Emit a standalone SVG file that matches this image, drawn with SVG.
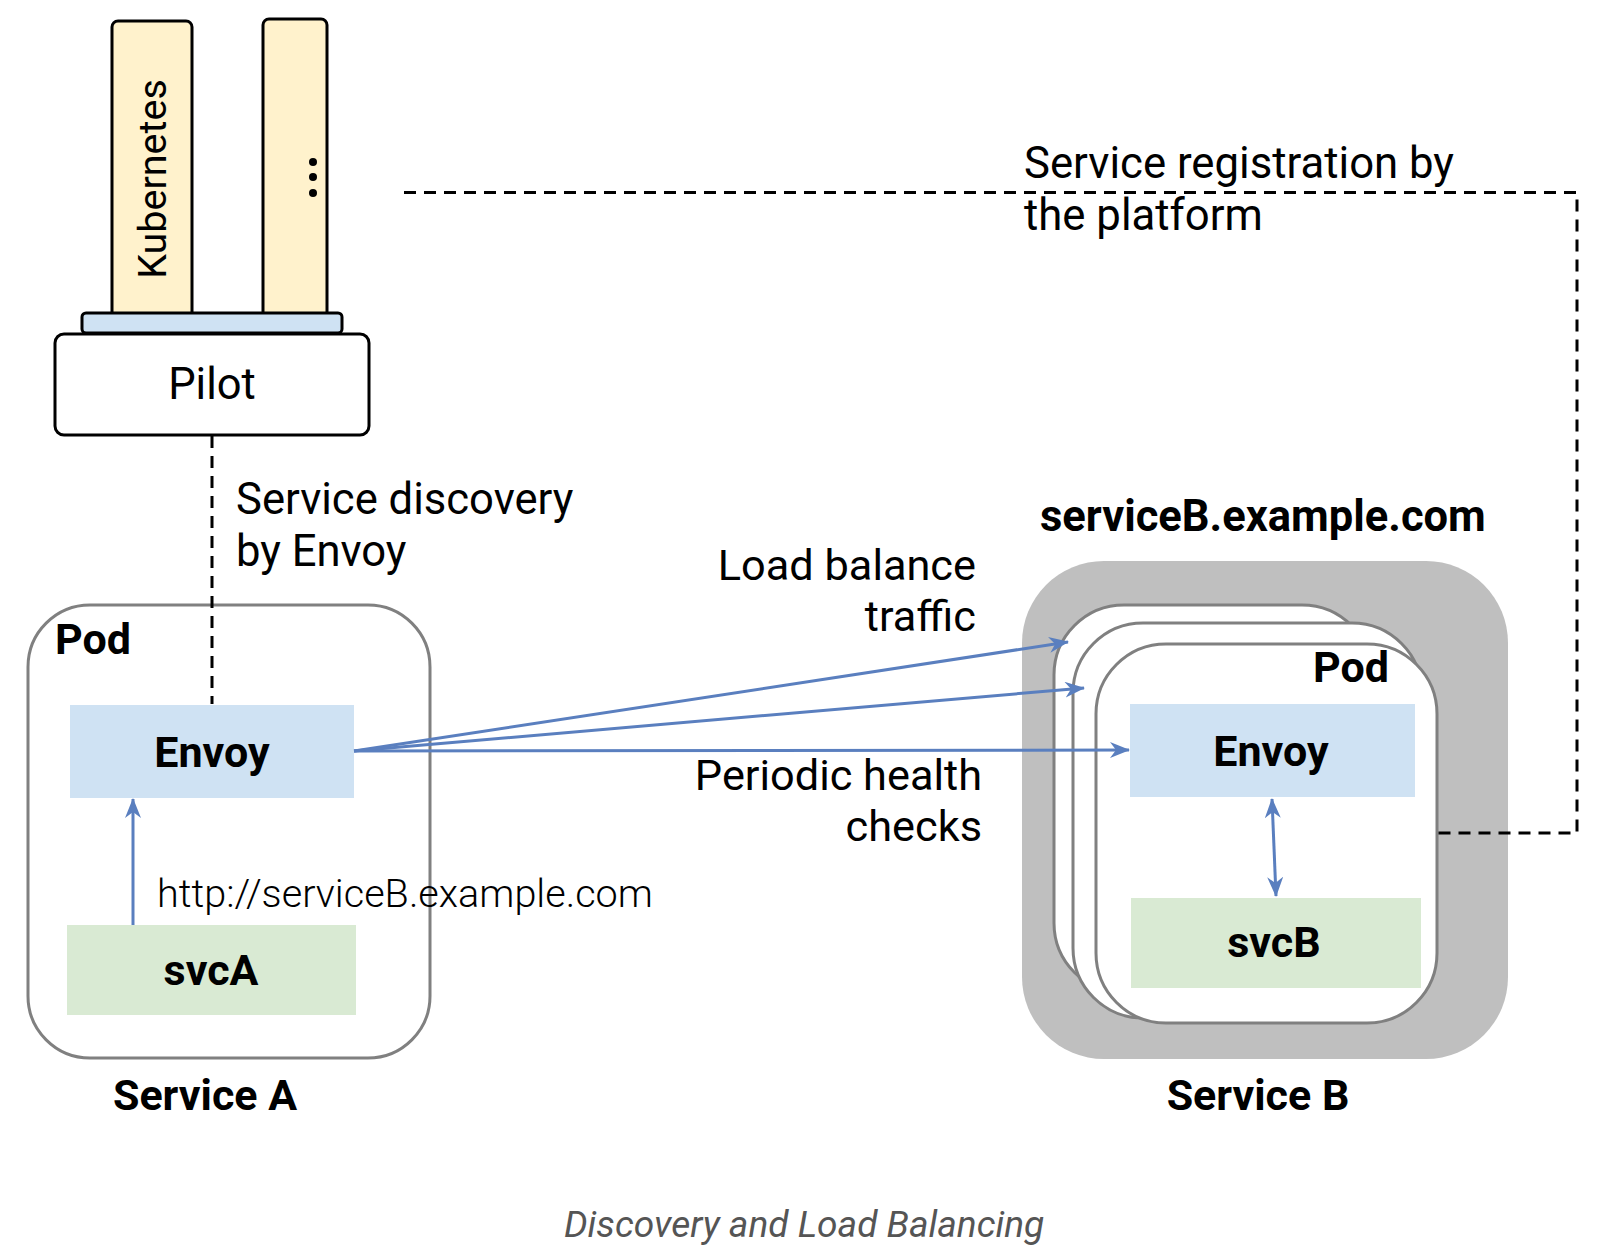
<svg xmlns="http://www.w3.org/2000/svg" width="1624" height="1256" viewBox="0 0 1624 1256">
<style>
text{font-family:Roboto,"Liberation Sans",sans-serif;fill:#000}
.b{font-weight:700}
.col{fill:#fff2cc;stroke:#000;stroke-width:3}
.pod{fill:#fff;stroke:#808080;stroke-width:3}
.env{fill:#cfe2f3}
.svc{fill:#d9ead3}
.dash{fill:none;stroke:#000;stroke-width:3;stroke-dasharray:12 8}
.arr{fill:none;stroke:#5a7fbf;stroke-width:3}
</style>
<defs>
<marker id="ah" viewBox="0 0 20 16" refX="19" refY="8" markerWidth="20" markerHeight="16" markerUnits="userSpaceOnUse" orient="auto-start-reverse">
<path d="M0,0 L20,8 L0,16 L6,8 z" fill="#5a7fbf"/>
</marker>
</defs>
<rect width="1624" height="1256" fill="#fff"/>

<g id="kubernetes">
<rect class="col" x="112" y="21" width="80" height="300" rx="6"/>
<text x="0" y="0" font-size="39.5" text-anchor="middle" transform="translate(166,179) rotate(-90)">Kubernetes</text>
</g>
<g id="other-platform">
<rect class="col" x="263" y="19" width="64" height="302" rx="6"/>
<circle cx="313" cy="162" r="4"/>
<circle cx="313" cy="177" r="4"/>
<circle cx="313" cy="193" r="4"/>
</g>
<g id="adapter">
<rect x="82" y="313" width="260" height="20" rx="4" fill="#cfe2f3" stroke="#000" stroke-width="3"/>
</g>
<g id="pilot">
<rect x="55" y="334" width="314" height="101" rx="9" fill="#fff" stroke="#000" stroke-width="3"/>
<text x="212" y="399" font-size="43.5" text-anchor="middle">Pilot</text>
</g>

<g id="service-b">
<rect x="1022" y="561" width="486" height="498" rx="82" fill="#bfbfbf"/>
<rect class="pod" x="1054" y="605" width="318" height="388" rx="70"/>
<rect class="pod" x="1073" y="623" width="349" height="395" rx="70"/>
<rect class="pod" x="1096" y="644" width="341" height="379" rx="70"/>
<text class="b" x="1389" y="682" font-size="43" text-anchor="end">Pod</text>
<text class="b" x="1040" y="531" font-size="43.5">serviceB.example.com</text>
<text class="b" x="1258" y="1110" font-size="43" text-anchor="middle">Service B</text>
</g>
<g id="envoy-b">
<rect class="env" x="1130" y="704" width="285" height="93"/>
<text class="b" x="1271" y="766" font-size="43" text-anchor="middle">Envoy</text>
</g>
<g id="svcb">
<rect class="svc" x="1131" y="898" width="290" height="90"/>
<text class="b" x="1274" y="957" font-size="43" text-anchor="middle">svcB</text>
</g>

<g id="service-a">
<rect class="pod" x="28" y="605" width="402" height="453" rx="62"/>
<text class="b" x="55" y="654" font-size="43">Pod</text>
<text class="b" x="205" y="1110" font-size="43" text-anchor="middle">Service A</text>
</g>
<g id="envoy-a">
<rect class="env" x="70" y="705" width="284" height="93"/>
<text class="b" x="212" y="767" font-size="43" text-anchor="middle">Envoy</text>
</g>
<g id="svca">
<rect class="svc" x="67" y="925" width="289" height="90"/>
<text class="b" x="211" y="985" font-size="43" text-anchor="middle">svcA</text>
</g>

<g id="connectors">
<path class="dash" d="M404,192.5 H1577 V833 H1437"/>
<path class="dash" d="M212,436 V704"/>
<path class="arr" d="M133,925 V799" marker-end="url(#ah)"/>
<path class="arr" d="M354,751 L1068,642" marker-end="url(#ah)"/>
<path class="arr" d="M354,751 L1084,688" marker-end="url(#ah)"/>
<path class="arr" d="M354,751 L1129,750" marker-end="url(#ah)"/>
<path class="arr" d="M1272,799 L1276,896" marker-start="url(#ah)" marker-end="url(#ah)"/>
</g>

<g id="labels">
<text x="1024" y="178" font-size="43.7">Service registration by</text>
<text x="1024" y="230" font-size="43.7">the platform</text>
<text x="236" y="514" font-size="43.6">Service discovery</text>
<text x="236" y="566" font-size="43.6">by Envoy</text>
<text x="976" y="580" font-size="43.3" text-anchor="end">Load balance</text>
<text x="976" y="631" font-size="43.3" text-anchor="end">traffic</text>
<text x="982" y="790" font-size="43.3" text-anchor="end">Periodic health</text>
<text x="982" y="841" font-size="43.3" text-anchor="end">checks</text>
<text x="157" y="907" font-size="39.6" font-weight="300">http://serviceB.example.com</text>
<text x="564" y="1237" font-size="37.1" font-style="italic" style="fill:#555">Discovery and Load Balancing</text>
</g>
</svg>
